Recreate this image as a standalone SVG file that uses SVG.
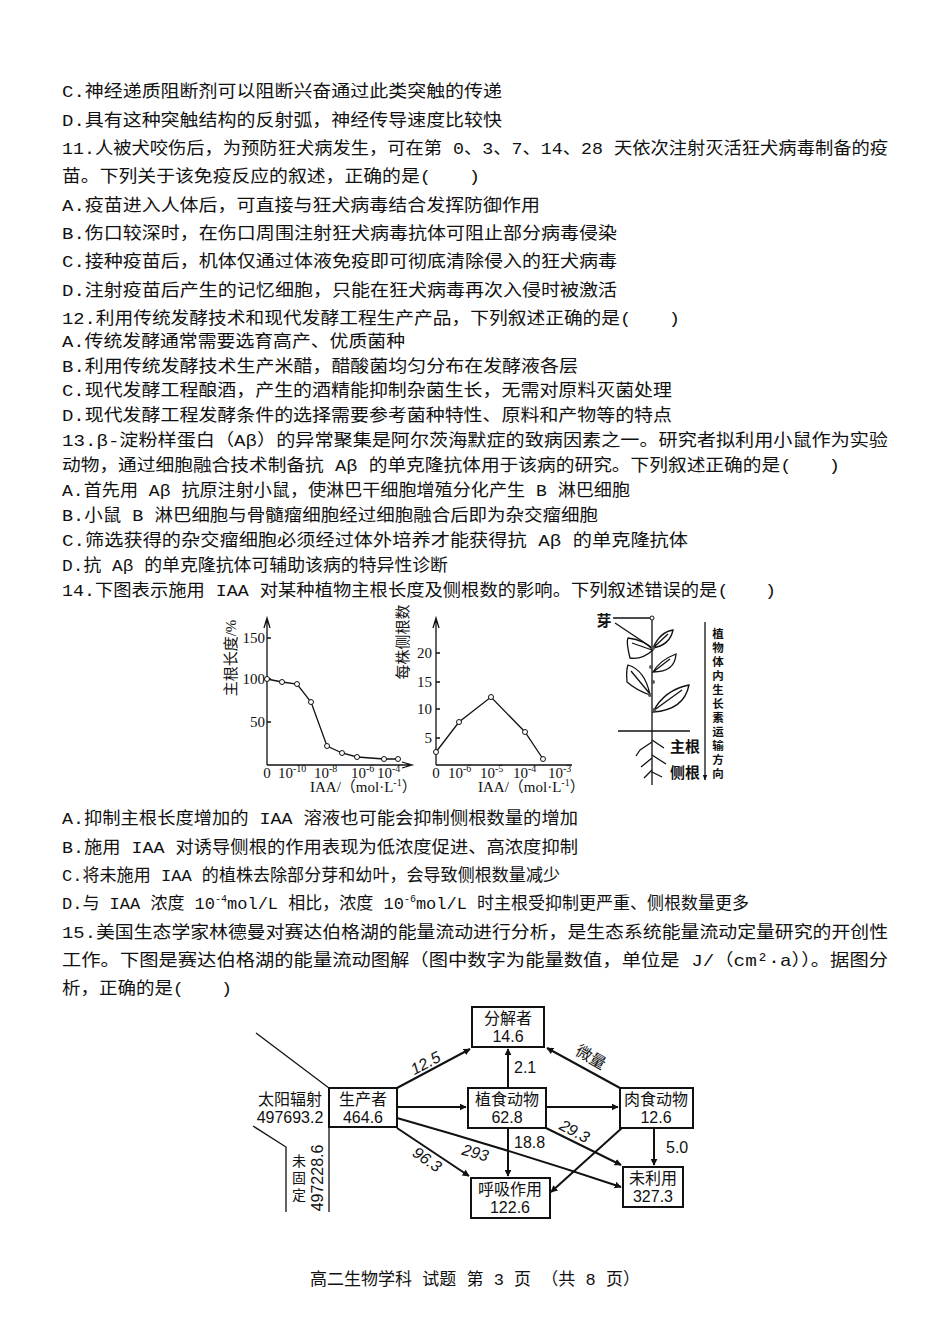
<svg xmlns="http://www.w3.org/2000/svg" width="950" height="1343" viewBox="0 0 950 1343">
<style>
.t{font-family:"Liberation Mono","Noto Sans CJK SC",monospace;font-size:17px;fill:#111}
.g{font-family:"Liberation Serif","Noto Sans CJK SC",serif;font-size:15px;fill:#111}
.d{font-family:"Liberation Sans","Noto Sans CJK SC",sans-serif;font-size:16px;fill:#111}
.v{font-family:"Noto Sans CJK SC",sans-serif;font-size:11.5px;font-weight:bold;fill:#111;text-anchor:middle}
.ln{stroke:#111;stroke-width:1.3;fill:none}
.bx{stroke:#111;stroke-width:2;fill:#fff}
.ar{stroke:#111;stroke-width:2;fill:none;marker-end:url(#ah)}
</style>
<defs>
<marker id="ah" viewBox="0 0 10 10" refX="9" refY="5" markerWidth="7" markerHeight="7" markerUnits="userSpaceOnUse" orient="auto"><path d="M0,0 L10,5 L0,10 z" fill="#111"/></marker>
<marker id="ah2" viewBox="0 0 10 10" refX="9" refY="5" markerWidth="6" markerHeight="6" markerUnits="userSpaceOnUse" orient="auto"><path d="M0,1 L10,5 L0,9 z" fill="#111"/></marker>
</defs>
<rect width="950" height="1343" fill="#fff"/>
<g id="text">
<text class="t" x="62" y="97" textLength="440" lengthAdjust="spacingAndGlyphs">C.神经递质阻断剂可以阻断兴奋通过此类突触的传递</text>
<text class="t" x="62" y="126" textLength="440" lengthAdjust="spacingAndGlyphs">D.具有这种突触结构的反射弧，神经传导速度比较快</text>
<text class="t" x="62" y="154" textLength="826" lengthAdjust="spacingAndGlyphs">11.人被犬咬伤后，为预防狂犬病发生，可在第 0、3、7、14、28 天依次注射灭活狂犬病毒制备的疫</text>
<text class="t" x="62" y="182" textLength="418" lengthAdjust="spacingAndGlyphs">苗。下列关于该免疫反应的叙述，正确的是(　　)</text>
<text class="t" x="62" y="211" textLength="478" lengthAdjust="spacingAndGlyphs">A.疫苗进入人体后，可直接与狂犬病毒结合发挥防御作用</text>
<text class="t" x="62" y="239" textLength="555" lengthAdjust="spacingAndGlyphs">B.伤口较深时，在伤口周围注射狂犬病毒抗体可阻止部分病毒侵染</text>
<text class="t" x="62" y="267" textLength="555" lengthAdjust="spacingAndGlyphs">C.接种疫苗后，机体仅通过体液免疫即可彻底清除侵入的狂犬病毒</text>
<text class="t" x="62" y="296" textLength="555" lengthAdjust="spacingAndGlyphs">D.注射疫苗后产生的记忆细胞，只能在狂犬病毒再次入侵时被激活</text>
<text class="t" x="62" y="324" textLength="618" lengthAdjust="spacingAndGlyphs">12.利用传统发酵技术和现代发酵工程生产产品，下列叙述正确的是(　　)</text>
<text class="t" x="62" y="347" textLength="343" lengthAdjust="spacingAndGlyphs">A.传统发酵通常需要选育高产、优质菌种</text>
<text class="t" x="62" y="372" textLength="516" lengthAdjust="spacingAndGlyphs">B.利用传统发酵技术生产米醋，醋酸菌均匀分布在发酵液各层</text>
<text class="t" x="62" y="396" textLength="610" lengthAdjust="spacingAndGlyphs">C.现代发酵工程酿酒，产生的酒精能抑制杂菌生长，无需对原料灭菌处理</text>
<text class="t" x="62" y="421" textLength="610" lengthAdjust="spacingAndGlyphs">D.现代发酵工程发酵条件的选择需要参考菌种特性、原料和产物等的特点</text>
<text class="t" x="62" y="446" textLength="826" lengthAdjust="spacingAndGlyphs">13.β-淀粉样蛋白（Aβ）的异常聚集是阿尔茨海默症的致病因素之一。研究者拟利用小鼠作为实验</text>
<text class="t" x="62" y="471" textLength="778" lengthAdjust="spacingAndGlyphs">动物，通过细胞融合技术制备抗 Aβ 的单克隆抗体用于该病的研究。下列叙述正确的是(　　)</text>
<text class="t" x="62" y="496" textLength="568" lengthAdjust="spacingAndGlyphs">A.首先用 Aβ 抗原注射小鼠，使淋巴干细胞增殖分化产生 B 淋巴细胞</text>
<text class="t" x="62" y="521" textLength="536" lengthAdjust="spacingAndGlyphs">B.小鼠 B 淋巴细胞与骨髓瘤细胞经过细胞融合后即为杂交瘤细胞</text>
<text class="t" x="62" y="546" textLength="626" lengthAdjust="spacingAndGlyphs">C.筛选获得的杂交瘤细胞必须经过体外培养才能获得抗 Aβ 的单克隆抗体</text>
<text class="t" x="62" y="571" textLength="386" lengthAdjust="spacingAndGlyphs">D.抗 Aβ 的单克隆抗体可辅助该病的特异性诊断</text>
<text class="t" x="62" y="596" textLength="714" lengthAdjust="spacingAndGlyphs">14.下图表示施用 IAA 对某种植物主根长度及侧根数的影响。下列叙述错误的是(　　)</text>
<text class="t" x="62" y="824" textLength="516" lengthAdjust="spacingAndGlyphs">A.抑制主根长度增加的 IAA 溶液也可能会抑制侧根数量的增加</text>
<text class="t" x="62" y="853" textLength="516" lengthAdjust="spacingAndGlyphs">B.施用 IAA 对诱导侧根的作用表现为低浓度促进、高浓度抑制</text>
<text class="t" x="62" y="881" textLength="498" lengthAdjust="spacingAndGlyphs">C.将未施用 IAA 的植株去除部分芽和幼叶，会导致侧根数量减少</text>
<text class="t" x="62" y="909">D.与 IAA 浓度 10<tspan font-size="10" dy="-7">-4</tspan><tspan dy="7">mol/L 相比，浓度 10</tspan><tspan font-size="10" dy="-7">-6</tspan><tspan dy="7">mol/L 时主根受抑制更严重、侧根数量更多</tspan></text>
<text class="t" x="62" y="938" textLength="826" lengthAdjust="spacingAndGlyphs">15.美国生态学家林德曼对赛达伯格湖的能量流动进行分析，是生态系统能量流动定量研究的开创性</text>
<text class="t" x="62" y="966" textLength="826" lengthAdjust="spacingAndGlyphs">工作。下图是赛达伯格湖的能量流动图解（图中数字为能量数值，单位是 J/（cm²·a））。据图分</text>
<text class="t" x="62" y="994" textLength="170" lengthAdjust="spacingAndGlyphs">析，正确的是(　　)</text>
<text class="t" x="475" y="1285" text-anchor="middle">高二生物学科 试题 第 3 页 （共 8 页）</text>
</g>
<g id="graph1">
<path class="ln" d="M267,765 V620 M264,628 L267,618 L270,628 M267,765 H410 M402,762 L412,765 L402,768"/>
<path class="ln" d="M267,638 h4 M267,679 h4 M267,722 h4"/>
<text class="g" x="265" y="643" text-anchor="end" font-size="16">150</text>
<text class="g" x="265" y="684" text-anchor="end" font-size="16">100</text>
<text class="g" x="265" y="727" text-anchor="end" font-size="16">50</text>
<polyline class="ln" points="267,679 282,682 297,684 311,702 327,746 342,753 357,757 384,759 398,759"/>
<g fill="#fff" stroke="#111" stroke-width="1"><circle cx="267" cy="679" r="2.5"/><circle cx="282" cy="682" r="2.5"/><circle cx="297" cy="684" r="2.5"/><circle cx="311" cy="702" r="2.5"/><circle cx="327" cy="746" r="2.5"/><circle cx="342" cy="753" r="2.5"/><circle cx="357" cy="757" r="2.5"/><circle cx="384" cy="759" r="2.5"/><circle cx="398" cy="759" r="2.5"/></g>
<text class="g" x="267" y="778" text-anchor="middle">0</text>
<text class="g" x="278" y="778">10<tspan font-size="10" dy="-6">-10</tspan></text>
<text class="g" x="314" y="778">10<tspan font-size="10" dy="-6">-8</tspan></text>
<text class="g" x="351" y="778">10<tspan font-size="10" dy="-6">-6</tspan></text>
<text class="g" x="377" y="778">10<tspan font-size="10" dy="-6">-4</tspan></text>
<text class="g" x="310" y="792">IAA/（mol·L<tspan font-size="10" dy="-6">-1</tspan><tspan dy="6">）</tspan></text>
<text class="g" transform="translate(236,658) rotate(-90)" text-anchor="middle" font-size="16">主根长度/%</text>
</g>
<g id="graph2">
<path class="ln" d="M436,765 V620 M433,628 L436,618 L439,628 M436,765 H572"/>
<path class="ln" d="M436,653 h4 M436,682 h4 M436,709 h4 M436,738 h4"/>
<text class="g" x="432" y="658" text-anchor="end" font-size="16">20</text>
<text class="g" x="432" y="687" text-anchor="end" font-size="16">15</text>
<text class="g" x="432" y="714" text-anchor="end" font-size="16">10</text>
<text class="g" x="432" y="743" text-anchor="end" font-size="16">5</text>
<polyline class="ln" points="436,752 459,722 491,697 525,732 543,759"/>
<g fill="#fff" stroke="#111" stroke-width="1"><circle cx="436" cy="752" r="2.5"/><circle cx="459" cy="722" r="2.5"/><circle cx="491" cy="697" r="2.5"/><circle cx="525" cy="732" r="2.5"/><circle cx="543" cy="759" r="2.5"/></g>
<text class="g" x="436" y="778" text-anchor="middle">0</text>
<text class="g" x="448" y="778">10<tspan font-size="10" dy="-6">-6</tspan></text>
<text class="g" x="480" y="778">10<tspan font-size="10" dy="-6">-5</tspan></text>
<text class="g" x="513" y="778">10<tspan font-size="10" dy="-6">-4</tspan></text>
<text class="g" x="548" y="778">10<tspan font-size="10" dy="-6">-3</tspan></text>
<text class="g" x="478" y="792">IAA/（mol·L<tspan font-size="10" dy="-6">-1</tspan><tspan dy="6">）</tspan></text>
<text class="g" transform="translate(408,642) rotate(-90)" text-anchor="middle" font-size="16">每株侧根数</text>
</g>
<g id="plant">
<path class="ln" d="M652,618 V785 M618,731 H690"/>
<circle cx="652" cy="618" r="2" fill="#fff" stroke="#111"/>
<path class="ln" d="M613,618 H650 M615,623 L651,647"/>
<text class="g" x="604" y="626" text-anchor="middle" font-weight="bold">芽</text>
<g class="ln">
<path d="M653,648 Q660,632 673,630 Q670,645 653,648 Z M653,648 L668,634"/>
<path d="M653,650 Q642,660 630,658 Q626,642 628,638 Q645,640 653,650 Z M652,650 L632,643"/>
<path d="M653,672 Q660,660 676,654 Q675,672 653,672 Z M653,672 L670,659"/>
<path d="M650,695 Q636,690 627,682 Q626,670 628,665 Q645,670 650,695 Z M650,694 L631,671"/>
<path d="M653,712 Q664,690 689,685 Q684,710 653,712 Z M653,711 L682,690"/>
<path d="M652,742 L640,750 M652,740 L664,748 M652,758 L641,767 M652,755 L666,764 M652,770 L644,778 M652,772 L662,777 M640,750 L636,756"/>
</g>
<g fill="#555"><circle cx="653" cy="648" r="2"/><circle cx="651" cy="667" r="2"/><circle cx="653" cy="682" r="2"/><circle cx="650" cy="695" r="2"/><circle cx="654" cy="710" r="2"/></g>
<text class="g" x="670" y="752" font-weight="bold" font-size="14">主根</text>
<text class="g" x="670" y="778" font-weight="bold" font-size="14">侧根</text>
<path class="ln" d="M705,622 V780" marker-end="url(#ah2)"/>
<text class="v" x="718" y="638">植</text>
<text class="v" x="718" y="652">物</text>
<text class="v" x="718" y="666">体</text>
<text class="v" x="718" y="680">内</text>
<text class="v" x="718" y="694">生</text>
<text class="v" x="718" y="708">长</text>
<text class="v" x="718" y="722">素</text>
<text class="v" x="718" y="736">运</text>
<text class="v" x="718" y="750">输</text>
<text class="v" x="718" y="764">方</text>
<text class="v" x="718" y="778">向</text>
</g>
<g id="connectors">
<path class="ln" stroke-width="2" d="M256,1033 L329,1088 V1212 M253,1126 L286,1147 V1212"/>
<path class="ar" d="M397,1088 L470,1049"/>
<path class="ar" d="M397,1107 H466"/>
<path class="ar" d="M546,1107 H618"/>
<path class="ar" d="M508,1088 V1049"/>
<path class="ar" d="M620,1088 L547,1048"/>
<path class="ar" d="M508,1128 V1176"/>
<path class="ar" d="M397,1128 L469,1176"/>
<path class="ar" d="M397,1118 Q510,1150 621,1187"/>
<path class="ar" d="M546,1128 L621,1165"/>
<path class="ar" d="M623,1127 L551,1192"/>
<path class="ar" d="M654,1128 V1165"/>
</g>
<g id="labels" class="d">
<text transform="translate(428,1068) rotate(-28)" text-anchor="middle" font-style="italic">12.5</text>
<text x="514" y="1073">2.1</text>
<text transform="translate(588,1062) rotate(30)" text-anchor="middle">微量</text>
<text transform="translate(572,1136) rotate(28)" text-anchor="middle" font-style="italic">29.3</text>
<text x="514" y="1148">18.8</text>
<text transform="translate(424,1164) rotate(35)" text-anchor="middle" font-style="italic">96.3</text>
<text transform="translate(474,1158) rotate(15)" text-anchor="middle" font-style="italic">293</text>
<text x="666" y="1153">5.0</text>
<text x="290" y="1105" text-anchor="middle">太阳辐射</text>
<text x="290" y="1123" text-anchor="middle">497693.2</text>
<text x="299" y="1166" text-anchor="middle" font-size="14">未</text>
<text x="299" y="1183" text-anchor="middle" font-size="14">固</text>
<text x="299" y="1200" text-anchor="middle" font-size="14">定</text>
<text transform="translate(323,1178) rotate(-90)" text-anchor="middle">497228.6</text>
</g>
<g id="n-decomposer"><rect class="bx" x="472" y="1007" width="72" height="40"/><text class="d" x="508" y="1024" text-anchor="middle">分解者</text><text class="d" x="508" y="1042" text-anchor="middle">14.6</text></g>
<g id="n-producer"><rect class="bx" x="329" y="1088" width="68" height="39"/><text class="d" x="363" y="1105" text-anchor="middle">生产者</text><text class="d" x="363" y="1123" text-anchor="middle">464.6</text></g>
<g id="n-herbivore"><rect class="bx" x="468" y="1088" width="78" height="40"/><text class="d" x="507" y="1105" text-anchor="middle">植食动物</text><text class="d" x="507" y="1123" text-anchor="middle">62.8</text></g>
<g id="n-carnivore"><rect class="bx" x="620" y="1088" width="73" height="40"/><text class="d" x="656" y="1105" text-anchor="middle">肉食动物</text><text class="d" x="656" y="1123" text-anchor="middle">12.6</text></g>
<g id="n-respiration"><rect class="bx" x="471" y="1178" width="79" height="40"/><text class="d" x="510" y="1195" text-anchor="middle">呼吸作用</text><text class="d" x="510" y="1213" text-anchor="middle">122.6</text></g>
<g id="n-unused"><rect class="bx" x="623" y="1167" width="60" height="40"/><text class="d" x="653" y="1184" text-anchor="middle">未利用</text><text class="d" x="653" y="1202" text-anchor="middle">327.3</text></g>
</svg>
